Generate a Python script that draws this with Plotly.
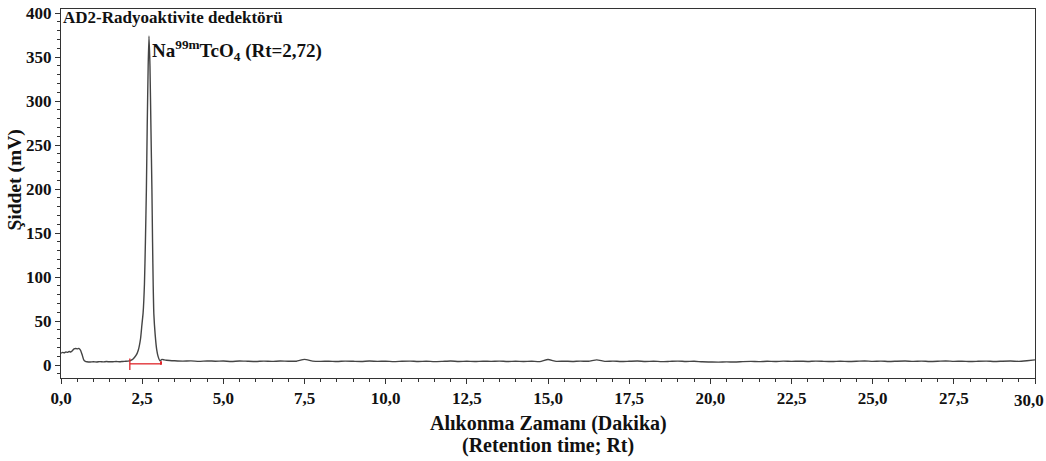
import numpy as np
import plotly.graph_objects as go

# ---- data ----
# start of run (solvent front region)
t_start = [0.0, 0.05, 0.1, 0.15, 0.2, 0.25, 0.3, 0.35, 0.4, 0.45, 0.5, 0.55, 0.6, 0.65,
           0.7, 0.75, 0.8, 0.9, 1.0, 1.1, 1.2, 1.3, 1.4, 1.5, 1.6, 1.7, 1.8, 1.9, 2.0, 2.1]
v_start = [13.5, 14.5, 14.0, 15.0, 14.5, 15.5, 15.0, 16.5, 18.5, 19.0, 18.5, 19.0, 17.0, 12.0,
           6.0, 4.2, 3.8, 3.6, 3.9, 3.6, 4.0, 3.7, 4.1, 3.8, 3.9, 4.2, 3.9, 4.2, 4.4, 4.8]

# Na99mTcO4 peak
t_peak = [2.15, 2.22, 2.31, 2.38, 2.45, 2.49, 2.53, 2.57, 2.60, 2.63, 2.655, 2.685, 2.71,
          2.74, 2.77, 2.80, 2.82, 2.84, 2.86, 2.90, 2.95, 2.99, 3.05, 3.11, 3.18]
v_peak = [5.5, 7.0, 11.0, 17.0, 30.0, 45.0, 60.0, 92.0, 140.0, 200.0, 270.0, 340.0, 374.0,
          340.0, 270.0, 200.0, 140.0, 90.0, 58.0, 35.0, 17.0, 10.0, 5.0, 6.5, 6.0]

# baseline after the peak, sampled every 0.25 min from 3.25 to 30.0
t_base = [round(3.25 + 0.25 * i, 2) for i in range(108)]
v_base = [5.6, 5.0, 4.6, 4.9, 4.3, 4.8, 4.5, 4.7, 4.2, 4.8,
          4.4, 4.1, 4.6, 4.3, 4.7, 4.4, 4.5, 6.6, 4.6, 4.3,
          4.5, 4.1, 4.6, 4.4, 4.2, 4.7, 4.3, 4.5, 4.0, 4.4,
          4.6, 4.2, 4.5, 4.0, 4.3, 4.7, 4.2, 4.4, 4.1, 4.5,
          4.3, 4.6, 4.1, 4.4, 4.2, 4.5, 4.0, 6.4, 4.3, 4.5,
          4.2, 4.6, 4.4, 6.0, 4.3, 4.6, 4.1, 4.4, 4.7, 4.2,
          4.5, 4.0, 4.3, 4.6, 4.2, 4.4, 3.8, 3.6, 3.4, 3.7,
          3.5, 4.0, 4.3, 4.0, 4.4, 4.1, 4.6, 4.3, 4.5, 4.2,
          4.6, 4.3, 4.1, 4.5, 4.2, 4.4, 4.8, 4.3, 4.6, 4.2,
          4.5, 4.7, 4.3, 4.6, 4.2, 4.4, 4.8, 4.3, 4.5, 4.1,
          4.4, 4.6, 4.2, 4.5, 4.7, 4.3, 5.0, 6.0]

# integration baseline of the peak
integ_start = 2.12
integ_end = 3.08
integ_level = 1.5

x_ticks = [0, 2.5, 5, 7.5, 10, 12.5, 15, 17.5, 20, 22.5, 25, 27.5, 30]
x_ticktext = ["0,0", "2,5", "5,0", "7,5", "10,0", "12,5", "15,0", "17,5", "20,0",
              "22,5", "25,0", "27,5", ""]
last_x_label = "30,0"
y_ticks = [0, 50, 100, 150, 200, 250, 300, 350, 400]

t_all = t_start + t_peak + t_base
v_all = v_start + v_peak + v_base

FONT = "Liberation Serif, Times New Roman, serif"
RED = "#e0262b"
TXT = "#111"

fig = go.Figure()
fig.add_trace(go.Scatter(x=t_all, y=v_all, mode="lines",
                         line=dict(color="#444", width=1.4, shape="spline", smoothing=0.5),
                         hoverinfo="skip", showlegend=False))
# integration marks
fig.add_trace(go.Scatter(x=[integ_start, integ_end], y=[integ_level, integ_level], mode="lines",
                         line=dict(color=RED, width=1.3), showlegend=False))
fig.add_trace(go.Scatter(x=[integ_start, integ_start], y=[integ_level - 7, integ_level + 6],
                         mode="lines", line=dict(color=RED, width=1.3), showlegend=False))
fig.add_trace(go.Scatter(x=[integ_end, integ_end], y=[integ_level - 1, integ_level + 3],
                         mode="lines", line=dict(color=RED, width=2), showlegend=False))

fig.update_xaxes(range=[0, 30], tickvals=x_ticks, ticktext=x_ticktext,
                 showline=True, linecolor="#333", linewidth=1, mirror=True,
                 ticks="outside", ticklen=5, tickcolor="#333",
                 minor=dict(dtick=0.5, ticks="outside", ticklen=3, tickcolor="#333"),
                 showgrid=False, zeroline=False, ticklabeloverflow="allow",
                 tickfont=dict(family=FONT, size=17, color=TXT, weight="bold"))
fig.update_yaxes(range=[-14.6, 404.7], tickvals=y_ticks,
                 showline=True, linecolor="#333", linewidth=1, mirror=True,
                 ticks="outside", ticklen=5, tickcolor="#333",
                 minor=dict(dtick=10, ticks="outside", ticklen=3, tickcolor="#333"),
                 showgrid=False, zeroline=False, ticklabeloverflow="allow",
                 tickfont=dict(family=FONT, size=17, color=TXT, weight="bold"))

ann = [
    dict(text="<b>AD2-Radyoaktivite dedektörü</b>", xref="paper", yref="paper", x=0, y=1,
         xanchor="left", yanchor="top", xshift=0, yshift=3, showarrow=False,
         font=dict(family=FONT, size=17, color=TXT)),
    dict(text="<b>Na<sup>99m</sup>TcO<sub>4</sub> (Rt=2,72)</b>", xref="x", yref="y",
         x=2.74, y=358, xanchor="left", yanchor="middle", showarrow=False,
         font=dict(family=FONT, size=19, color=TXT)),
    dict(text="<b>Şiddet (mV)</b>", xref="paper", yref="paper", x=0, y=0.535,
         xanchor="center", yanchor="middle", xshift=-46, textangle=-90, showarrow=False,
         font=dict(family=FONT, size=19.5, color=TXT)),
    dict(text="<b>Alıkonma Zamanı (Dakika)</b>", xref="paper", yref="paper", x=0.5, y=0,
         xanchor="center", yanchor="middle", yshift=-45, showarrow=False,
         font=dict(family=FONT, size=20, color=TXT)),
    dict(text="<b>(Retention time; Rt)</b>", xref="paper", yref="paper", x=0.5, y=0,
         xanchor="center", yanchor="middle", yshift=-67, showarrow=False,
         font=dict(family=FONT, size=20, color=TXT)),
    dict(text="<b>" + last_x_label + "</b>", xref="paper", yref="paper", x=1, y=0,
         xanchor="right", yanchor="middle", xshift=11, yshift=-22, showarrow=False,
         font=dict(family=FONT, size=17, color=TXT)),
]

fig.update_layout(width=1046, height=461, margin=dict(l=61, r=11, t=4, b=83),
                  paper_bgcolor="white", plot_bgcolor="white", separators=",.",
                  annotations=ann, showlegend=False)

fig.write_html("out.html")
